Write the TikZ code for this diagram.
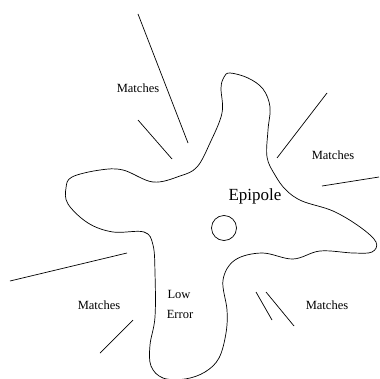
\documentclass[tikz,border=0pt]{standalone}
\usepackage{fontspec}
\setmainfont{Liberation Serif}
\usepackage{tikz}
\tikzset{
    ray/.style={line width=0.7pt},
    matchlabel/.style={font=\fontsize{12.5}{15}\selectfont, inner sep=0pt},
    bigtext/.style={font=\fontsize{17}{20}\selectfont, inner sep=0pt}
}

\begin{document}
\begin{tikzpicture}[x=1pt, y=-1pt]
            \useasboundingbox (0,0) rectangle (379,379);

            % error region
            \draw[ray] plot[smooth cycle, tension=0.6] coordinates {
                (230,73) (248,78) (263,89) (270,107) (268,130) (267,157)
                (275,175) (286,190) (302,201) (333,211) (360,227) (376,242)
                (372,252) (353,253) (320,251) (293,259) (262,253) (235,260)
                (223,280) (227,310) (226,333) (219,358) (205,372) (185,379)
                (163,378) (151,366) (150,345) (155,317) (155,273) (153,245)
                (144,232) (113,232) (88,223) (68,204) (66,188) (72,177)
                (100,170) (123,170) (153,182) (180,176) (197,167) (210,143)
                (222,113) (221,88) (224,77)};

            % epipole
            \node[circle, draw, line width=0.7pt, minimum size=25pt, inner sep=0pt] (ep) at (224,228) {};
            \node[bigtext] (eptext) at (255,196) {Epipole};

            % match rays
            \coordinate (a1) at (138,14);  \coordinate (a2) at (188,143);
            \coordinate (b1) at (138,120); \coordinate (b2) at (172,159);
            \coordinate (c1) at (327,93);  \coordinate (c2) at (277,158);
            \coordinate (d1) at (322,186); \coordinate (d2) at (379,177);
            \coordinate (e1) at (10,281);  \coordinate (e2) at (127,253);
            \coordinate (f1) at (100,353); \coordinate (f2) at (133,320);
            \coordinate (g1) at (256,292); \coordinate (g2) at (272,320);
            \coordinate (h1) at (266,292); \coordinate (h2) at (294,326);
            \foreach \s/\t in {a1/a2,b1/b2,c1/c2,d1/d2,e1/e2,f1/f2,g1/g2,h1/h2}
                \draw[ray] (\s) -- (\t);

            % labels
            \node[matchlabel] (m1) at (138,88)  {Matches};
            \node[matchlabel] (m2) at (333,155) {Matches};
            \node[matchlabel] (m3) at (99,305)  {Matches};
            \node[matchlabel] (m4) at (327,305) {Matches};
            \node[matchlabel] (low) at (179,294) {Low};
            \node[matchlabel] (err) at (180,314) {Error};
        \end{tikzpicture}
\end{document}
